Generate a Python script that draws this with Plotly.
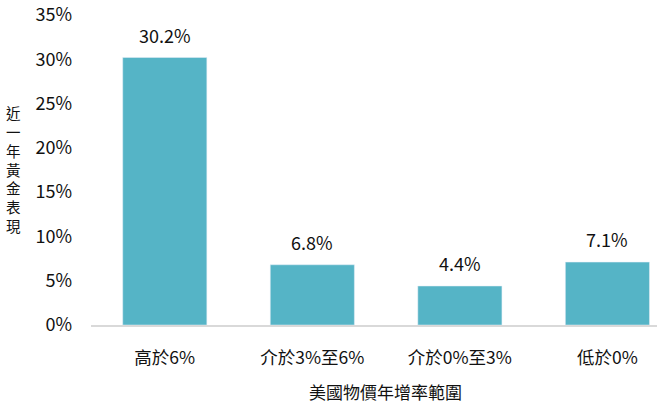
import plotly.graph_objects as go

categories = ["高於6%", "介於3%至6%", "介於0%至3%", "低於0%"]
values = [30.2, 6.8, 4.4, 7.1]
labels = ["30.2%", "6.8%", "4.4%", "7.1%"]
y_ticks = [0, 5, 10, 15, 20, 25, 30, 35]
y_title = "近一年黃金表現"
x_title = "美國物價年增率範圍"

FONT = "Noto Sans CJK TC, Microsoft JhengHei, sans-serif"
TITLE_FONT = "DejaVu Sans, Noto Sans CJK TC, sans-serif"
BAR = "#55B4C6"
TXT = "#111111"

fig = go.Figure()
fig.add_trace(go.Bar(
    x=list(range(len(categories))), y=values,
    marker_color=BAR, width=0.57, hoverinfo="skip",
))

for i, (v, t) in enumerate(zip(values, labels)):
    fig.add_annotation(x=i, y=v, text=t, showarrow=False, yanchor="bottom",
                       yshift=8, font=dict(size=18, color=TXT, family=FONT))

# vertical stacked y-axis title, one character per line
fig.add_annotation(xref="paper", yref="paper", x=-0.137, y=0.5,
                   xanchor="center", yanchor="middle", showarrow=False,
                   text="<br>".join(list(y_title)),
                   font=dict(size=14.5, color=TXT, family=TITLE_FONT))

fig.add_annotation(xref="paper", yref="paper", x=0.52, y=-0.215, xanchor="center",
                   yanchor="middle", showarrow=False, text=x_title,
                   font=dict(size=17, color=TXT, family=FONT))

fig.update_layout(
    width=657, height=405,
    margin=dict(l=91, r=0, t=15, b=80),
    paper_bgcolor="white", plot_bgcolor="white",
    showlegend=False,
    font=dict(family=FONT, color=TXT),
    xaxis=dict(
        range=[-0.5, 3.336], tickmode="array",
        tickvals=list(range(len(categories))), ticktext=categories,
        tickfont=dict(size=17.5, color=TXT),
        showline=True, linecolor="#d9d9d9", linewidth=1.5,
        showgrid=False, zeroline=False, ticks="", ticklabelstandoff=16,
    ),
    yaxis=dict(
        range=[0, 35], tickmode="array", tickvals=y_ticks,
        ticktext=[f"{v}%" for v in y_ticks],
        tickfont=dict(size=18, color=TXT),
        showgrid=False, zeroline=False, showline=False, ticks="",
        ticklabelstandoff=18,
    ),
)

fig.write_html("out.html", config={"displayModeBar": False},
               post_script="document.body.style.margin='0';")
